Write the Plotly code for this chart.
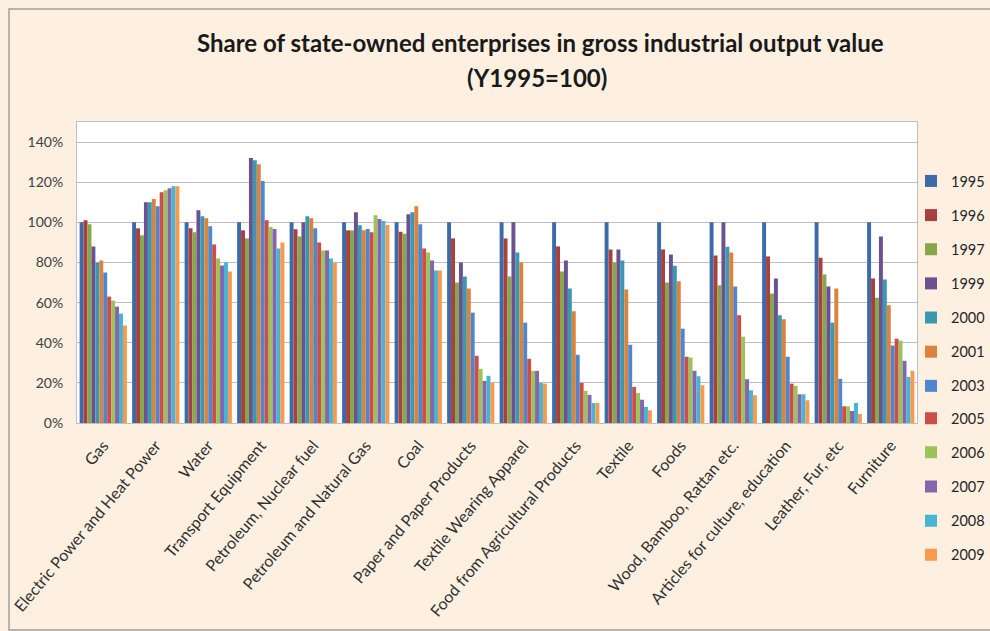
import plotly.graph_objects as go

categories = ["Gas", "Electric Power and Heat Power", "Water", "Transport Equipment",
              "Petroleum, Nuclear fuel", "Petroleum and Natural Gas", "Coal",
              "Paper and Paper Products", "Textile Wearing Apparel",
              "Food from Agricultural Products", "Textile", "Foods",
              "Wood, Bamboo, Rattan etc.", "Articles for culture, education",
              "Leather, Fur, etc", "Furniture"]

years = ["1995", "1996", "1997", "1999", "2000", "2001", "2003", "2005", "2006", "2007", "2008", "2009"]

# values in % (Y1995 = 100), per year across categories
v1995 = [100, 100, 100, 100, 100, 100, 100, 100, 100, 100, 100, 100, 100, 100, 100, 100]
v1996 = [101, 97, 97, 96, 96.5, 96, 95.3, 92, 92, 88, 86.5, 86.5, 83.5, 83, 82.4, 72]
v1997 = [99, 93.5, 95, 92, 93, 96, 94.3, 70, 73, 75.5, 80, 70, 68.7, 64.5, 74, 62.4]
v1999 = [88, 110, 106, 132, 100, 105, 104, 80, 100, 81, 86.5, 84, 100, 72, 68, 93]
v2000 = [80, 110, 103, 131, 103, 98.5, 105, 73, 85, 67, 81, 78.4, 87.8, 53.7, 50, 71.5]
v2001 = [81, 111.6, 102, 129, 102, 96, 108, 67, 80, 55.7, 66.5, 70.7, 85, 51.7, 67, 58.7]
v2003 = [75, 108, 98, 120.6, 97, 96.7, 99, 55, 50, 34, 39, 47, 68, 33, 22, 38.6]
v2005 = [63, 115, 89, 101, 90, 95, 87, 33.5, 32, 20, 18, 33, 53.7, 19.6, 8.3, 42]
v2006 = [61, 116, 82, 97.7, 86, 103.5, 85, 27, 26, 16, 15, 32.6, 43, 18.5, 8.3, 41]
v2007 = [58, 117, 78.5, 96.7, 86, 101.7, 81, 21, 26, 14, 11.6, 26, 21.8, 14.3, 6, 31]
v2008 = [54.5, 118, 80, 87, 82, 100.7, 76, 23.5, 20, 10, 8, 23.3, 16.3, 14.3, 10, 23]
v2009 = [48.6, 118, 75.5, 90, 80, 98.7, 76, 20, 19.6, 10, 6.3, 18.8, 13.8, 11.3, 4.5, 26]

series = [v1995, v1996, v1997, v1999, v2000, v2001, v2003, v2005, v2006, v2007, v2008, v2009]

title_line1 = "Share of state-owned enterprises in gross industrial output value"
title_line2 = "(Y1995=100)"

colors = ["#3D6AA8", "#A8403D", "#87A84A", "#6A5290", "#3A98B0", "#DB823C",
          "#4F86CC", "#CC4D4A", "#9CC25A", "#8465AE", "#46B4D2", "#F79A4E"]

font_family = "Lato, Carlito, Calibri, sans-serif"

# plot area in pixels
L, R, T, B = 77, 917, 122, 423
PW, PH = R - L, B - T
ITEM_STEP = 33.9
FIRST_ITEM = 182


def px_x(x):
    return (x - L) / PW


def px_y(y):
    return (B - y) / PH


fig = go.Figure()
for i, (yr, vals) in enumerate(zip(years, series)):
    fig.add_trace(go.Bar(
        x=categories,
        y=[v / 100 for v in vals],
        name=yr,
        legendgroup=yr,
        legend="legend" if i < 7 else "legend2",
        marker=dict(color=colors[i], line=dict(width=0)),
    ))

title_font = dict(family=font_family, size=24, color="#1a1a1a")
legend_common = dict(
    xanchor="left", yanchor="top",
    font=dict(family=font_family, size=14.5, color="#262626"),
    bgcolor="rgba(0,0,0,0)",
    tracegroupgap=12.3,
    itemwidth=30,
)

fig.update_layout(
    width=990, height=631,
    barmode="group",
    bargap=0.1,
    bargroupgap=0,
    paper_bgcolor="#FDF0E1",
    plot_bgcolor="#FFFFFF",
    margin=dict(l=L, r=990 - R, t=T, b=631 - B, autoexpand=False),
    font=dict(family=font_family, color="#404040", size=13),
    legend=dict(x=px_x(911), y=px_y(FIRST_ITEM - 17), **legend_common),
    legend2=dict(x=px_x(911), y=px_y(FIRST_ITEM + 7 * ITEM_STEP - 17), **legend_common),
    xaxis=dict(
        tickangle=-50,
        tickfont=dict(size=16, color="#303030"),
        showline=True, linecolor="#BFBFBF", linewidth=1,
        ticks="", mirror=True,
        ticklabelstandoff=6,
    ),
    yaxis=dict(
        range=[0, 1.5],
        dtick=0.2,
        tickformat=".0%",
        tickfont=dict(size=14, color="#404040"),
        showgrid=True, gridcolor="#BFBFBF", gridwidth=1,
        showline=True, linecolor="#BFBFBF", linewidth=1, mirror=True,
        zeroline=False,
        ticks="",
        ticklabelstandoff=10,
    ),
    annotations=[
        dict(text="<b>" + title_line1 + "</b>", xref="paper", yref="paper",
             x=px_x(540), y=px_y(42), xanchor="center", yanchor="middle",
             showarrow=False, font=title_font),
        dict(text="<b>" + title_line2 + "</b>", xref="paper", yref="paper",
             x=px_x(537), y=px_y(78), xanchor="center", yanchor="middle",
             showarrow=False, font=title_font),
    ],
    shapes=[dict(type="rect", xref="paper", yref="paper",
                 x0=px_x(9), x1=px_x(1000), y0=px_y(630), y1=px_y(9),
                 line=dict(color="#A0A0A0", width=1.5), fillcolor="rgba(0,0,0,0)",
                 layer="below")],
)

fig.write_html("out.html", config={"displayModeBar": False},
               post_script="document.body.style.margin='0';")
